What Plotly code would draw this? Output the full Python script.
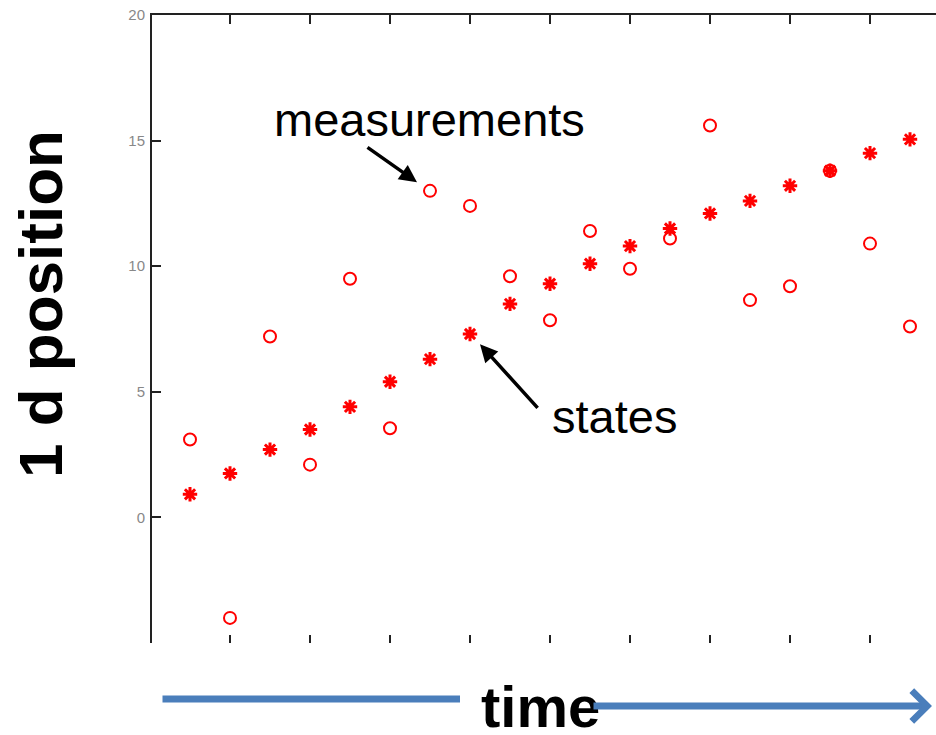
import plotly.graph_objects as go

# time steps
steps = list(range(1, 20))
# hidden states (stars)
states = [0.92, 1.75, 2.7, 3.5, 4.4, 5.4, 6.3, 7.3, 8.5, 9.3, 10.1, 10.8,
          11.5, 12.1, 12.6, 13.2, 13.8, 14.5, 15.05]
# noisy measurements (circles)
measurements = [3.1, -4.0, 7.2, 2.1, 9.5, 3.55, 13.0, 12.4, 9.6, 7.85, 11.4,
                9.9, 11.1, 15.6, 8.65, 9.2, 13.8, 10.9, 7.6]

y_tickvals = [0, 5, 10, 15, 20]
y_ticktext = ["0", "5", "10", "15", "20"]

RED = "#ff0000"
BLUE = "#4a7ebb"
AXC = "#222222"
FONT = "Liberation Sans, Arial, sans-serif"

FIG_W, FIG_H = 936, 735

fig = go.Figure()
fig.add_trace(go.Scatter(
    x=steps, y=measurements, mode="markers", xaxis="x", yaxis="y",
    marker=dict(symbol="circle-open", size=12, color=RED,
                line=dict(color=RED, width=2)),
    showlegend=False, hoverinfo="skip"))
fig.add_trace(go.Scatter(
    x=steps, y=states, mode="markers", xaxis="x2", yaxis="y",
    marker=dict(symbol="asterisk-open", size=12, color=RED,
                line=dict(color=RED, width=3)),
    showlegend=False, hoverinfo="skip"))

# plot area in page pixels
L, T, R, B = 152, 15, 936, 643
W, H = R - L, B - T


def px(xp):
    return (xp - L) / W


def py(yp):
    return (B - yp) / H


annotations = [
    dict(text="measurements", x=6.98, y=15.85, xref="x", yref="y",
         xanchor="center", yanchor="middle",
         showarrow=False, font=dict(family=FONT, size=47, color="black")),
    dict(text="", x=6.675, y=13.34, xref="x", yref="y",
         ax=-51, ay=-36, showarrow=True, arrowhead=2, arrowsize=1,
         arrowwidth=3.5, arrowcolor="black", standoff=0),
    dict(text="states", x=11.6, y=4.0, xref="x", yref="y",
         xanchor="center", yanchor="middle",
         showarrow=False, font=dict(family=FONT, size=47, color="black")),
    dict(text="", x=8.25, y=6.89, xref="x", yref="y",
         ax=59, ay=65, showarrow=True, arrowhead=2, arrowsize=1,
         arrowwidth=3.5, arrowcolor="black", standoff=0),
    dict(text="<b>1 d position</b>", x=px(41), y=py(304), xref="paper",
         yref="paper", xanchor="center", yanchor="middle", textangle=-90,
         showarrow=False, font=dict(family=FONT, size=62, color="black")),
    dict(text="<b>time</b>", x=px(540), y=py(706), xref="paper",
         yref="paper", xanchor="center", yanchor="middle", showarrow=False,
         font=dict(family=FONT, size=58, color="black")),
    dict(text="", x=px(460), y=py(699), xref="paper", yref="paper",
         ax=-299, ay=0, showarrow=True, arrowhead=0, arrowwidth=7,
         arrowcolor=BLUE, standoff=0),
    dict(text="", x=px(932), y=py(706), xref="paper", yref="paper",
         ax=-340, ay=0, showarrow=True, arrowhead=4, arrowsize=0.85,
         arrowwidth=7, arrowcolor=BLUE, standoff=0),
]

fig.update_layout(
    width=FIG_W, height=FIG_H,
    margin=dict(l=L, r=FIG_W - R, t=T, b=FIG_H - B, pad=0),
    paper_bgcolor="white", plot_bgcolor="white",
    xaxis=dict(range=[0.05, 19.65], side="top", showline=True,
               linecolor=AXC, linewidth=2, ticks="inside", ticklen=9,
               tickwidth=2, tickcolor=AXC, tick0=0, dtick=2,
               showticklabels=False, showgrid=False, zeroline=False),
    xaxis2=dict(overlaying="x", matches="x", side="bottom", showline=False,
                ticks="inside", ticklen=8, tickwidth=2, tickcolor=AXC,
                tick0=0, dtick=2, showticklabels=False, showgrid=False,
                zeroline=False),
    yaxis=dict(range=[-5, 20], showline=True, linecolor=AXC, linewidth=2,
               ticks="inside", ticklen=9, tickwidth=2, tickcolor=AXC,
               tickvals=y_tickvals, ticktext=y_ticktext,
               tickfont=dict(family=FONT, size=15, color="#888888"),
               ticklabelstandoff=2, ticklabeloverflow="allow",
               showgrid=False, zeroline=False),
    annotations=annotations,
)

fig.write_html("out.html",
               config={"displayModeBar": False},
               post_script="document.body.style.margin='0';"
                           "document.body.style.overflow='hidden';")
